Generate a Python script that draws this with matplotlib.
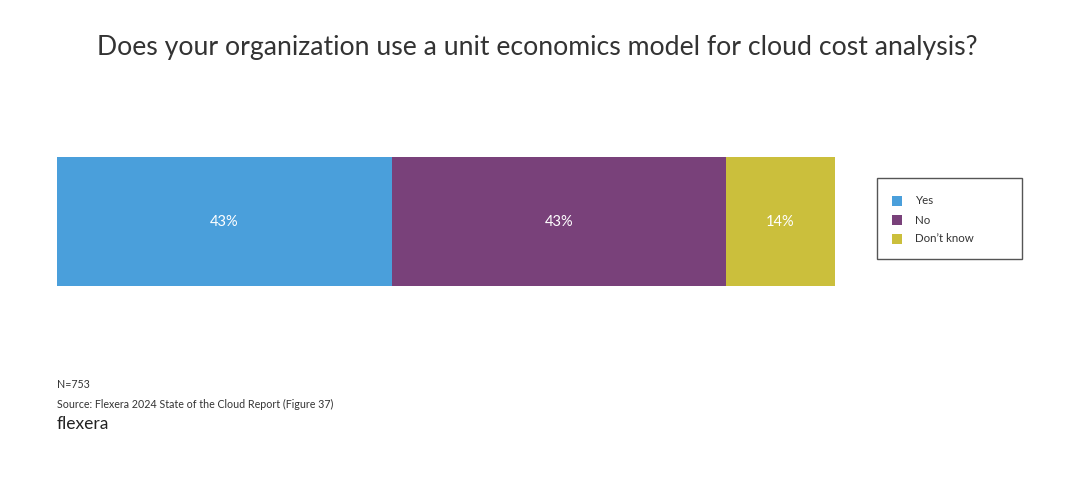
import matplotlib.pyplot as plt
from matplotlib.patches import Rectangle

plt.rcParams['font.family'] = ['Lato', 'DejaVu Sans']

categories = ["Yes", "No", "Don\u2019t know"]
values = [43, 43, 14]
colors = ["#4a9fdb", "#79417a", "#cbbf3c"]

W, H = 1080, 479
fig = plt.figure(figsize=(W / 100, H / 100), dpi=100)

def fx(px):
    return px / W

def fy(py):
    return 1 - py / H

# stacked bar
x0, x1, y0, y1 = 57, 835, 157, 286
ax = fig.add_axes([fx(x0), fy(y1), (x1 - x0) / W, (y1 - y0) / H])
left = 0
for cat, v, c in zip(categories, values, colors):
    ax.barh(0, v, left=left, height=1, color=c, label=cat)
    ax.text(left + v / 2, 0, f"{v}%", ha="center", va="center", color="white", fontsize=10.5)
    left += v
ax.set_xlim(0, sum(values))
ax.set_ylim(-0.5, 0.5)
ax.axis("off")

# legend box drawn by hand
fig.patches.append(Rectangle((fx(877), fy(259)), 145 / W, 81 / H, transform=fig.transFigure,
                             facecolor="white", edgecolor="#555555", linewidth=1.0))
for i, (cat, c) in enumerate(zip(categories, colors)):
    yc = 201 + 19 * i
    fig.patches.append(Rectangle((fx(892), fy(yc + 5)), 10 / W, 10 / H, transform=fig.transFigure,
                                 facecolor=c, edgecolor="none"))
    fig.text(fx(915), fy(yc), cat, ha="left", va="center", fontsize=8.3, color="#333333")

fig.text(fx(537), fy(47), "Does your organization use a unit economics model for cloud cost analysis?",
         ha="center", va="center", fontsize=19.2, color="#333333")

fig.text(fx(57), fy(385), "N=753", ha="left", va="center", fontsize=7.7, color="#333333")
fig.text(fx(57), fy(404), "Source: Flexera 2024 State of the Cloud Report (Figure 37)",
         ha="left", va="center", fontsize=7.7, color="#333333")
fig.text(fx(57), fy(424), "flexera", ha="left", va="center", fontsize=12.5,
         color="#222222")

fig.savefig("out.png", dpi=100, facecolor="white")
